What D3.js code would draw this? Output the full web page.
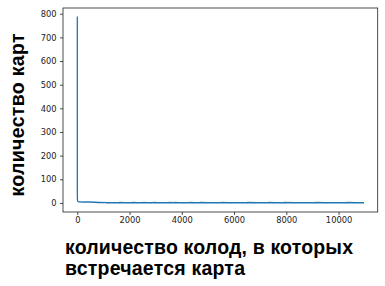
<!DOCTYPE html>
<html><head><meta charset="utf-8">
<script src="https://cdn.jsdelivr.net/npm/d3@7"></script>
<style>body{margin:0;background:#fff}svg{display:block}</style>
</head><body>
<svg id="c" width="385" height="286"></svg>
<script>
const deckCounts = [1,2,3,4,5,6,7,8,10,12,15,20,25,30,40,50,60,80,100,130,160,200,250,300,350,400,450,500,550,600,650,700,800,900,1000,1005,1100,1300,1500,1600,1610,1800,2000,2100,2110,2300,2500,2510,2700,2900,2910,3100,3300,3500,3510,3700,3710,3900,4100,4300,4310,4500,4700,4710,5000,5300,5500,5510,5800,6100,6500,6510,6900,7300,7310,7600,7900,7910,8300,8700,9100,9110,9500,9900,10300,10310,10700,10950];
const cardCounts = [785,62,40,28,20,16,14,12,10,9,8,7,7,6,6,5,5,5,5,5,4,5,4,5,4,4,4,4,4,3,3,3,2,2,1,2,1,1,1,1,2,1,1,1,2,1,1,2,1,1,2,1,1,1,2,1,2,1,1,1,2,1,1,2,1,1,1,2,1,1,1,2,1,1,2,1,1,2,1,1,1,2,1,1,1,2,1,1];
const xTicks = [0,2000,4000,6000,8000,10000];
const yTicks = [0,100,200,300,400,500,600,700,800];
const xLabelLines = ["количество колод, в которых","встречается карта"];
const yLabel = "количество карт";

const svg = d3.select("#c");
const L=63, R=377.7, T=8, B=212;
const xmin=d3.min(deckCounts), xmax=d3.max(deckCounts);
const ymin=d3.min(cardCounts), ymax=d3.max(cardCounts);
const px=(xmax-xmin)*0.05, py=(ymax-ymin)*0.05;
const x=d3.scaleLinear().domain([xmin-px,xmax+px]).range([L,R]);
const y=d3.scaleLinear().domain([ymin-py,ymax+py]).range([B,T]);

const data=deckCounts.map((d,i)=>[d,cardCounts[i]]);
svg.append("path").datum(data)
  .attr("fill","none").attr("stroke","#1f77b4").attr("stroke-width",1.3)
  .attr("stroke-linejoin","round").attr("stroke-linecap","square")
  .attr("d",d3.line().x(d=>x(d[0])).y(d=>y(d[1])));

const xa=svg.append("g").attr("transform",`translate(0,${B})`)
  .call(d3.axisBottom(x).tickValues(xTicks).tickFormat(d3.format("d")).tickSize(3).tickPadding(2.5));
const ya=svg.append("g").attr("transform",`translate(${L},0)`)
  .call(d3.axisLeft(y).tickValues(yTicks).tickFormat(d3.format("d")).tickSize(3).tickPadding(3.5));
[xa,ya].forEach(a=>{
  a.select(".domain").remove();
  a.selectAll("line").attr("stroke","#222").attr("stroke-width",0.8);
  a.selectAll("text").attr("fill","#222").style("font-family","DejaVu Sans").style("font-size","8.3px");
});
svg.append("rect").attr("x",L).attr("y",T).attr("width",R-L).attr("height",B-T)
  .attr("fill","none").attr("stroke","#222").attr("stroke-width",0.8);

const lineLens=[288,180];
const xl=svg.append("text").attr("fill","#000")
  .style("font-family","Liberation Sans, Arial, sans-serif").style("font-weight","bold").style("font-size","19.5px");
xLabelLines.forEach((t,i)=>xl.append("tspan").attr("x",65).attr("y",253.5+i*21)
  .attr("textLength",lineLens[i]).attr("lengthAdjust","spacing").text(t));
svg.append("text").attr("fill","#000")
  .attr("transform","translate(24,115) rotate(-90)").attr("text-anchor","middle")
  .attr("textLength",163).attr("lengthAdjust","spacing")
  .style("font-family","Liberation Sans, Arial, sans-serif").style("font-weight","bold").style("font-size","19.5px")
  .text(yLabel);
</script>
</body></html>
